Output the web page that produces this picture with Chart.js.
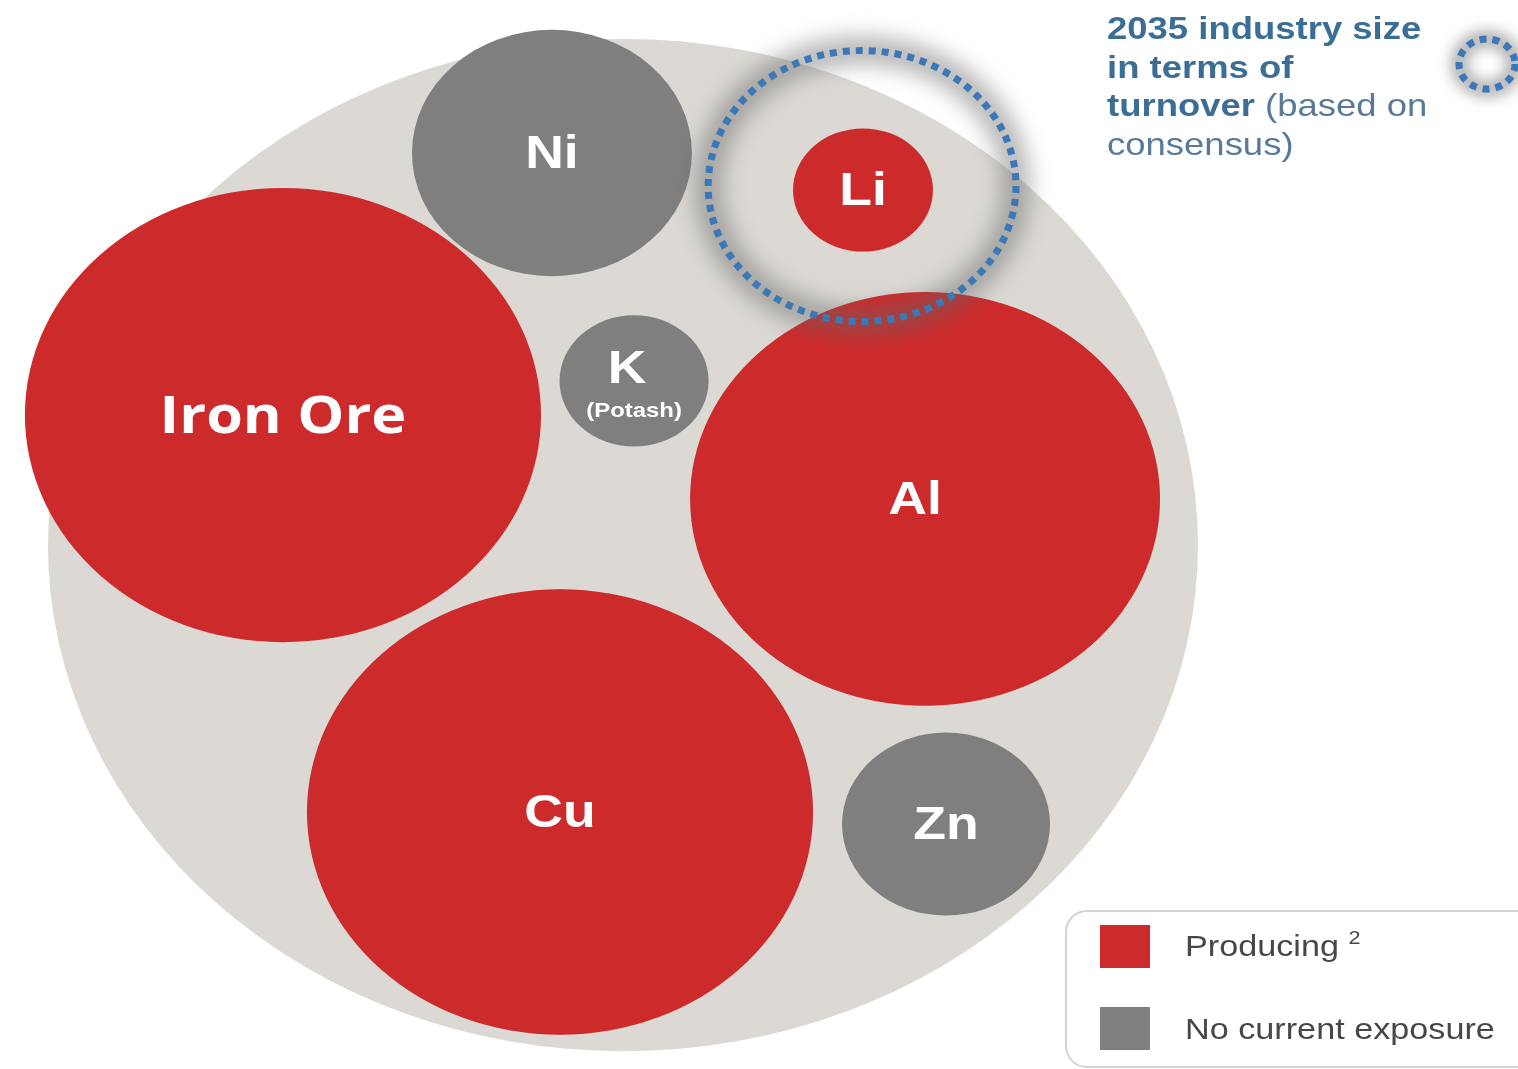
<!DOCTYPE html>
<html>
<head>
<meta charset="utf-8">
<script src="https://cdn.jsdelivr.net/npm/chart.js@4.4.0/dist/chart.umd.min.js"></script>
<style>
  html, body { margin: 0; padding: 0; background: #fff; }
  body { width: 1518px; height: 1069px; position: relative; overflow: hidden; font-family: "Liberation Sans", Arial, sans-serif; }
  #wrap { position: absolute; left: 0; top: 0; width: 1518px; height: 1069px; }
  .stretch { position: absolute; transform: scaleX(1.14); transform-origin: 0 0; white-space: nowrap; }
  .note { left: 1107px; top: 9px; font-size: 32px; line-height: 38.5px; color: #587a99; }
  .note b { color: #3b6e95; }
  .legend-box { position: absolute; left: 1065px; top: 910px; width: 480px; height: 158px; border: 2px solid #d2d2d2; border-radius: 22px; box-sizing: border-box; }
  .swatch { position: absolute; left: 1100px; width: 50px; height: 43px; }
  .legend-text { left: 1185px; font-size: 30px; color: #474747; }
  .legend-text sup { font-size: 19px; vertical-align: top; position: relative; top: -2px; }
</style>
</head>
<body>
<div id="wrap"><canvas id="chart"></canvas></div>

<div class="stretch note"><b>2035 industry size</b><br><b>in terms of</b><br><b>turnover</b> (based on<br>consensus)</div>

<div class="legend-box"></div>
<div class="swatch" style="top:925px;background:#cd2a2b"></div>
<div class="stretch legend-text" style="top:929px">Producing <sup>2</sup></div>
<div class="swatch" style="top:1007px;background:#7f7f7f"></div>
<div class="stretch legend-text" style="top:1012px">No current exposure</div>

<script>
// Dữ liệu bong bóng (đơn vị của trục, không phải pixel)
const metals   = ['Iron Ore', 'Ni', 'Li', 'K', 'Al', 'Cu', 'Zn']
const subNames = ['', '', '', '(Potash)', '', '', '']
const exposure = ['Producing', 'No current exposure', 'Producing', 'No current exposure', 'Producing', 'Producing', 'No current exposure']
const posX     = [18.64, 36.36, 56.85, 41.77, 60.94, 36.89, 62.32]
const posY     = [48.94, 68.55, 65.78, 51.49, 42.66, 19.23, 18.33]
const sizes    = [17.0, 9.22, 4.61, 4.91, 15.48, 16.67, 6.85]

// Vòng tròn tổng (cả ngành) và quy mô Li năm 2035
const universe  = { x: 41.04, y: 39.21, size: 37.88 }
const lithium2035 = { x: 56.79, y: 66.08, size: 10.14 }

const STRETCH = 1.14
const colors = { 'Producing': '#cd2a2b', 'No current exposure': '#7f7f7f' }
// độ lệch nhãn (pixel) so với tâm
const labelShift = { 'Al': -10, 'K': -7 }

function pointsFor(group) {
    const out = []
    metals.forEach((name, i) => {
        if (exposure[i] === group) {
            out.push({ x: posX[i], y: posY[i], size: sizes[i], name: name, sub: subNames[i] })
        }
    })
    return out
}

// Tính elip từ thang đo của Chart.js
function ellipseOf(chart, d) {
    const xs = chart.scales.x
    const ys = chart.scales.y
    const cx = xs.getPixelForValue(d.x)
    const cy = ys.getPixelForValue(d.y)
    const rx = Math.abs(xs.getPixelForValue(d.x + d.size) - cx)
    const ry = Math.abs(ys.getPixelForValue(d.y + d.size) - cy)
    return { cx, cy, rx, ry }
}

function drawText(ctx, text, x, y, font) {
    ctx.save()
    ctx.translate(x, y)
    ctx.scale(STRETCH, 1)
    ctx.font = font
    ctx.fillStyle = '#ffffff'
    ctx.textAlign = 'center'
    ctx.textBaseline = 'middle'
    ctx.fillText(text, 0, 0)
    ctx.restore()
}

function dottedRing(ctx, cx, cy, rx, ry, color, glow) {
    ctx.save()
    // bóng mờ quanh vòng
    ctx.filter = 'blur(' + glow + 'px)'
    ctx.strokeStyle = 'rgba(100,100,100,0.5)'
    ctx.lineWidth = glow * 2.4
    ctx.beginPath()
    ctx.ellipse(cx, cy, rx, ry, 0, 0, Math.PI * 2)
    ctx.stroke()
    ctx.filter = 'none'
    ctx.setLineDash([7, 6])
    ctx.strokeStyle = color
    ctx.lineWidth = 7
    ctx.beginPath()
    ctx.ellipse(cx, cy, rx, ry, 0, 0, Math.PI * 2)
    ctx.stroke()
    ctx.restore()
}

const ellipsePlugin = {
    id: 'ellipseBubbles',
    beforeDatasetsDraw(chart) {
        const ctx = chart.ctx
        chart.data.datasets.forEach(ds => {
            ds.data.forEach(d => {
                const e = ellipseOf(chart, d)
                if (ds.ring) {
                    dottedRing(ctx, e.cx, e.cy, e.rx, e.ry, ds.borderColor, 11)
                } else {
                    ctx.save()
                    ctx.fillStyle = ds.backgroundColor
                    ctx.beginPath()
                    ctx.ellipse(e.cx, e.cy, e.rx, e.ry, 0, 0, Math.PI * 2)
                    ctx.fill()
                    ctx.restore()
                }
            })
        })
    },
    afterDatasetsDraw(chart) {
        const ctx = chart.ctx
        chart.data.datasets.forEach(ds => {
            ds.data.forEach(d => {
                if (!d.name) return
                const e = ellipseOf(chart, d)
                const dx = labelShift[d.name] || 0
                if (d.name === 'Iron Ore') {
                    drawText(ctx, d.name, e.cx, e.cy + 3, 'bold 52px "Open Sans"')
                } else if (d.sub) {
                    drawText(ctx, d.name, e.cx + dx, e.cy - 11, 'bold 47px "Liberation Sans"')
                    drawText(ctx, d.sub, e.cx, e.cy + 30, 'bold 21px "Liberation Sans"')
                } else {
                    drawText(ctx, d.name, e.cx + dx, e.cy + 2, 'bold 47px "Liberation Sans"')
                }
            })
        })

        // biểu tượng vòng chấm ở góc phải
        dottedRing(ctx, 1487, 64, 28, 25, '#3a78b8', 7)
    }
}

new Chart(document.getElementById('chart'), {
    type: 'bubble',
    data: {
        datasets: [
            { label: 'Total', data: [universe], backgroundColor: '#dcd9d4', radius: 0 },
            { label: 'Producing', data: pointsFor('Producing'), backgroundColor: colors['Producing'], radius: 0 },
            { label: 'No current exposure', data: pointsFor('No current exposure'), backgroundColor: colors['No current exposure'], radius: 0 },
            { label: '2035', data: [lithium2035], ring: true, borderColor: '#3a78b8', backgroundColor: 'transparent', radius: 0 }
        ]
    },
    options: {
        responsive: true,
        maintainAspectRatio: false,
        animation: false,
        layout: { padding: 0 },
        plugins: { legend: { display: false }, tooltip: { enabled: false } },
        elements: { point: { radius: 0, hoverRadius: 0 } },
        scales: {
            x: { type: 'linear', min: 0, max: 100, display: false },
            y: { type: 'linear', min: 0, max: 80, display: false }
        }
    },
    plugins: [ellipsePlugin]
})
</script>
</body>
</html>
